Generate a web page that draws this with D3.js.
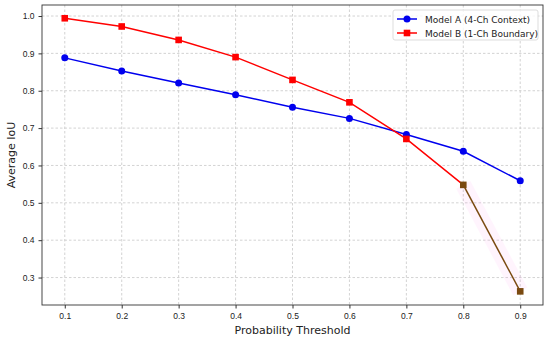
<!DOCTYPE html>
<html>
<head>
<meta charset="utf-8">
<script src="https://cdn.jsdelivr.net/npm/d3@7"></script>
<style>
  body { margin: 0; background: #fff; }
  svg { font-family: "DejaVu Sans", sans-serif; }
  .grid line { stroke: #c8c8c8; stroke-dasharray: 2.5,2; stroke-width: 0.8; }
  .axis text { font-size: 8.5px; fill: #222; }
  .axis path, .axis line { stroke: #333; }
</style>
</head>
<body>
<svg id="chart"></svg>
<script>
var thresholds = [0.1, 0.2, 0.3, 0.4, 0.5, 0.6, 0.7, 0.8, 0.9];
var modelA = [0.888, 0.853, 0.821, 0.789, 0.756, 0.726, 0.683, 0.638, 0.559];
var modelB = [0.994, 0.972, 0.936, 0.890, 0.829, 0.769, 0.671, 0.548, 0.263];
var yTicks = [0.3, 0.4, 0.5, 0.6, 0.7, 0.8, 0.9, 1.0];
var seriesNames = ["Model A (4-Ch Context)", "Model B (1-Ch Boundary)"];

var svgWidth = 550;
var svgHeight = 342;
var margin = { top: 5, right: 7, bottom: 37, left: 42 };
var width = svgWidth - margin.left - margin.right;
var height = svgHeight - margin.top - margin.bottom;

var svg = d3.select("#chart")
  .attr("width", svgWidth)
  .attr("height", svgHeight);

var chartGroup = svg.append("g")
  .attr("transform", `translate(${margin.left}, ${margin.top})`);

var x = d3.scaleLinear().domain([0.06, 0.94]).range([0, width]);
var y = d3.scaleLinear().domain([0.2265, 1.0295]).range([height, 0]);

// grid
chartGroup.append("g").attr("class", "grid")
  .selectAll("line").data(thresholds).enter().append("line")
  .attr("x1", d => x(d)).attr("x2", d => x(d))
  .attr("y1", 0).attr("y2", height);
chartGroup.append("g").attr("class", "grid")
  .selectAll("line").data(yTicks).enter().append("line")
  .attr("x1", 0).attr("x2", width)
  .attr("y1", d => y(d)).attr("y2", d => y(d));

// axes
chartGroup.append("g").attr("class", "axis")
  .attr("transform", `translate(0, ${height})`)
  .call(d3.axisBottom(x).tickValues(thresholds).tickFormat(d3.format(".1f")).tickSize(3.5).tickPadding(4))
  .call(g => g.select(".domain").remove());
chartGroup.append("g").attr("class", "axis")
  .call(d3.axisLeft(y).tickValues(yTicks).tickFormat(d3.format(".1f")).tickSize(3.5).tickPadding(4))
  .call(g => g.select(".domain").remove());

chartGroup.append("rect")
  .attr("width", width).attr("height", height)
  .attr("fill", "none").attr("stroke", "#333").attr("stroke-width", 0.9);

var line = d3.line().x(d => x(d[0])).y(d => y(d[1]));
var ptsA = thresholds.map((t, i) => [t, modelA[i]]);
var ptsB = thresholds.map((t, i) => [t, modelB[i]]);
var tail = ptsB.slice(7);

// faint pink highlight behind the last segment
chartGroup.append("path")
  .datum(tail)
  .attr("d", line)
  .attr("fill", "none")
  .attr("stroke", "#ff66dd")
  .attr("stroke-opacity", 0.07)
  .attr("stroke-width", 16);

chartGroup.append("path")
  .datum(ptsA)
  .attr("d", line)
  .attr("fill", "none")
  .attr("stroke", "#0000ee")
  .attr("stroke-width", 1.5);

chartGroup.append("path")
  .datum(ptsB.slice(0, 8))
  .attr("d", line)
  .attr("fill", "none")
  .attr("stroke", "#ff0000")
  .attr("stroke-width", 1.5);

chartGroup.append("path")
  .datum(tail)
  .attr("d", line)
  .attr("fill", "none")
  .attr("stroke", "#7a4a10")
  .attr("stroke-width", 1.5);

chartGroup.selectAll("circle.ma")
  .data(ptsA).enter().append("circle")
  .attr("class", "ma")
  .attr("cx", d => x(d[0])).attr("cy", d => y(d[1]))
  .attr("r", 3.5)
  .attr("fill", "#0000ee");

chartGroup.selectAll("rect.mb")
  .data(ptsB).enter().append("rect")
  .attr("class", "mb")
  .attr("x", d => x(d[0]) - 3.3).attr("y", d => y(d[1]) - 3.3)
  .attr("width", 6.6).attr("height", 6.6)
  .attr("fill", (d, i) => i >= 7 ? "#7a4a10" : "#ff0000");

// legend
var legend = chartGroup.append("g")
  .attr("transform", `translate(${width - 150}, 5)`);
legend.append("rect")
  .attr("width", 145).attr("height", 30).attr("rx", 2)
  .attr("fill", "#fff").attr("fill-opacity", 0.8)
  .attr("stroke", "#ddd");
var colors = ["#0000ee", "#ff0000"];
seriesNames.forEach(function(name, i) {
  var g = legend.append("g").attr("transform", `translate(4, ${9 + i * 14})`);
  g.append("line").attr("x1", 0).attr("x2", 20).attr("y1", 0).attr("y2", 0)
    .attr("stroke", colors[i]).attr("stroke-width", 1.5);
  if (i === 0) {
    g.append("circle").attr("cx", 10).attr("cy", 0).attr("r", 3.5).attr("fill", colors[i]);
  } else {
    g.append("rect").attr("x", 6.7).attr("y", -3.3).attr("width", 6.6).attr("height", 6.6).attr("fill", colors[i]);
  }
  g.append("text").attr("x", 28).attr("y", 3.5)
    .style("font-size", "9px").style("fill", "#222")
    .text(name);
});

// axis labels
svg.append("text")
  .attr("x", margin.left + width / 2).attr("y", 334)
  .attr("text-anchor", "middle")
  .style("font-size", "11px").style("fill", "#222")
  .text("Probability Threshold");

svg.append("text")
  .attr("transform", `translate(15, ${margin.top + height / 2}) rotate(-90)`)
  .attr("text-anchor", "middle")
  .style("font-size", "11px").style("fill", "#222")
  .text("Average IoU");
</script>
</body>
</html>
